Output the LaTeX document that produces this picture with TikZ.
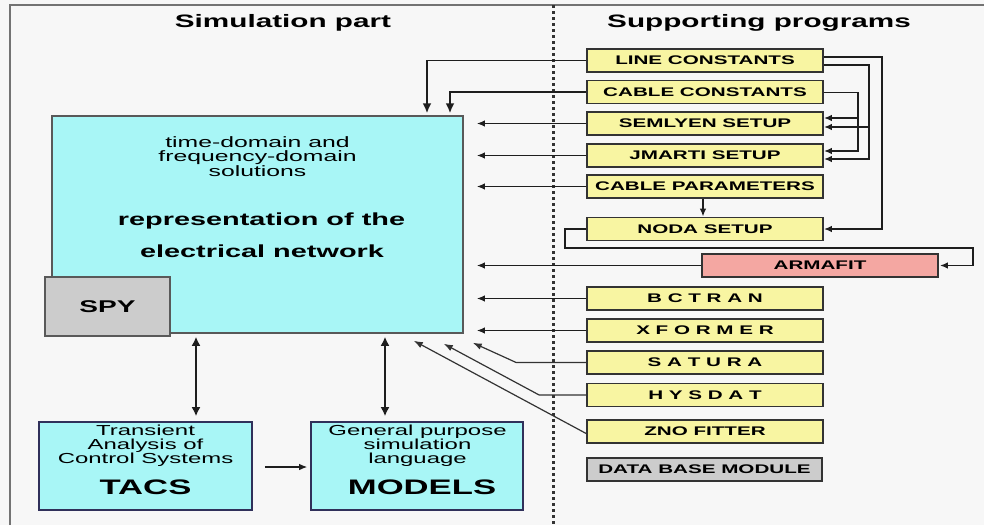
\documentclass[tikz,border=0pt]{standalone}
\usepackage{fontspec}
\setmainfont{Liberation Sans}
\newfontfamily\widesf[FakeStretch=1.65]{Liberation Sans}
\usetikzlibrary{arrows.meta,positioning}
\definecolor{EmtpPaper}{HTML}{F7F7F7}
\definecolor{EmtpCyan}{HTML}{A8F6F6}
\definecolor{EmtpYellow}{HTML}{F8F5A2}
\definecolor{EmtpPink}{HTML}{F4A7A2}
\definecolor{EmtpGrey}{HTML}{CCCCCC}
\definecolor{EmtpLine}{HTML}{1E1E1E}
\definecolor{EmtpNavy}{HTML}{30305A}
\newcommand{\fsz}[2]{\fontsize{#1}{#2}\selectfont}

\tikzset{
  headtext/.style={inner sep=0pt, font=\widesf\bfseries\fsz{18}{18}},
  progbox/.style={draw=black!80, line width=1.7pt, fill=EmtpYellow,
    minimum width=236pt, minimum height=23pt, inner sep=0pt,
    font=\widesf\bfseries\fsz{12.5}{12.5}},
  simbox/.style={draw=EmtpNavy, line width=1.6pt, fill=EmtpCyan,
    minimum width=212pt, minimum height=88pt, inner sep=0pt},
  thintext/.style={inner sep=0pt, align=center, font=\widesf\fsz{14.5}{14}},
  bigtext/.style={inner sep=0pt, font=\widesf\bfseries\fsz{21}{21}},
  arr/.style={line width=1.8pt, draw=EmtpLine, -{Latex[length=8pt,width=6.5pt]}},
  bigarr/.style={line width=1.9pt, draw=EmtpLine, -{Latex[length=10pt,width=9pt]}},
  darr/.style={line width=1.9pt, draw=EmtpLine,
    {Latex[length=9pt,width=9pt]}-{Latex[length=9pt,width=9pt]}},
  diag/.style={line width=1.2pt, draw=black!80, -{Latex[length=9pt,width=6.5pt]}}
}

\begin{document}
\begin{tikzpicture}[x=1pt,y=-1pt]
  % page and frame
  \fill[EmtpPaper] (0,0) rectangle (984,525);
  \useasboundingbox (0,0) rectangle (984,525);
  \draw[black!55, line width=1.5pt] (10,525) -- (10,5) -- (984,5);
  \draw[black!80, line width=3pt, dash pattern=on 2.5pt off 3.5pt] (553,5) -- (553,525);

  \node[headtext] (simhead) at (283,23) {Simulation part};
  \node[headtext] (suphead) at (759,23) {Supporting programs};

  % simulation part
  \node[draw=black!65, line width=1.5pt, fill=EmtpCyan, minimum width=411pt,
    minimum height=217pt] (main) at (257.5,224.5) {};
  \node[thintext, font=\widesf\fsz{15}{14.5}, below=21pt of main.north] (mainsol)
    {time-domain and\\frequency-domain\\solutions};
  \node[inner sep=0pt, anchor=base, font=\widesf\bfseries\fsz{17.5}{17.5}] (mainrep)
    at (261.5,225) {representation of the};
  \node[inner sep=0pt, anchor=base, font=\widesf\bfseries\fsz{17.5}{17.5}] (mainnet)
    at (262,257) {electrical network};
  \node[draw=black!65, line width=1.5pt, fill=EmtpGrey, minimum width=125pt,
    minimum height=59pt, font=\widesf\bfseries\fsz{17}{17}] (spy) at (107.5,306.5) {SPY};

  \node[simbox, minimum width=213pt] (tacs) at (145.5,466) {};
  \node[simbox] (models) at (417,466) {};
  \node[thintext, anchor=north] (tacsdesc) at (145.5,425)
    {Transient\\Analysis of\\Control Systems};
  \node[bigtext, anchor=base] (tacsname) at (145.5,494) {TACS};
  \node[thintext, anchor=north] (modelsdesc) at (417.5,425)
    {General purpose\\simulation\\language};
  \node[bigtext, anchor=base] (modelsname) at (422,494) {MODELS};

  % supporting programs
  \node[progbox] (linec) at (705,60.5) {LINE CONSTANTS};
  \node[progbox] (cablec) at (705,92) {CABLE CONSTANTS};
  \node[progbox] (semlyen) at (705,123.5) {SEMLYEN SETUP};
  \node[progbox] (jmarti) at (705,155.5) {JMARTI SETUP};
  \node[progbox] (cablep) at (705,186.5) {CABLE PARAMETERS};
  \node[progbox] (noda) at (705,229) {NODA SETUP};
  \node[progbox, fill=EmtpPink] (armafit) at (820,265.5) {ARMAFIT};
  \node[progbox] (bctran) at (705,298.5) {B C T R A N};
  \node[progbox] (xformer) at (705,330.5) {X F O R M E R};
  \node[progbox] (satura) at (705,362.5) {S A T U R A};
  \node[progbox] (hysdat) at (705,395) {H Y S D A T};
  \node[progbox] (zno) at (705,431.5) {ZNO FITTER};
  \node[progbox, fill=EmtpGrey, minimum width=235pt] (dbm) at (704.5,469.5) {DATA BASE MODULE};

  % connectors into the network
  \draw[bigarr, shorten >=2pt] (linec.west) -| ([xshift=169.5pt]main.north);
  \draw[bigarr, shorten >=2pt] (cablec.west) -| ([xshift=192.5pt]main.north);
  \foreach \prog in {semlyen,jmarti,cablep,armafit,bctran,xformer}
    \draw[arr, shorten >=13pt] (\prog.west) -- (\prog.west -| main.east);
  \draw[diag] (satura.west) -- ++(-70,0) -- ([shift={(9pt,-9pt)}]main.south east);
  \draw[diag] (hysdat.west) -- ++(-47,0) -- ([shift={(-20pt,-10pt)}]main.south east);
  \draw[diag] ([yshift=-2pt]zno.west) -- ([shift={(-50pt,-7pt)}]main.south east);

  % connectors between the programs
  \draw[arr] ([yshift=3.5pt]linec.east) -- ++(58,0) |- (noda.east);
  \draw[arr] ([yshift=-4.5pt]linec.east) -- ++(45,0) |- ([yshift=-3.5pt]jmarti.east);
  \draw[arr] ([yshift=-4.5pt]linec.east) ++(45,0) |- ([yshift=-3.5pt]semlyen.east);
  \draw[arr] ([yshift=-0.5pt]cablec.east) -- ++(34,0) |- ([yshift=4.5pt]jmarti.east);
  \draw[arr] ([yshift=-0.5pt]cablec.east) ++(34,0) |- ([yshift=5.5pt]semlyen.east);
  \draw[arr] ([xshift=-2pt]cablep.south) -- ([xshift=-2pt]noda.north);
  \draw[arr, shorten >=1pt] (noda.west) -- ++(-21,0) -- ++(0,19)
    -| ([xshift=34pt]armafit.east) -- (armafit.east);

  % simulation part links
  \coordinate (tacsup) at ([xshift=50.5pt]tacs.north);
  \coordinate (modelsup) at ([xshift=-32pt]models.north);
  \draw[darr, shorten <=3pt, shorten >=5pt] (tacsup |- main.south) -- (tacsup);
  \draw[darr, shorten <=3pt, shorten >=5pt] (modelsup |- main.south) -- (modelsup);
  \draw[arr, line width=1.2pt, shorten <=12pt, shorten >=3pt]
    ([yshift=-1pt]tacs.east) -- ([yshift=-1pt]models.west);
\end{tikzpicture}
\end{document}
